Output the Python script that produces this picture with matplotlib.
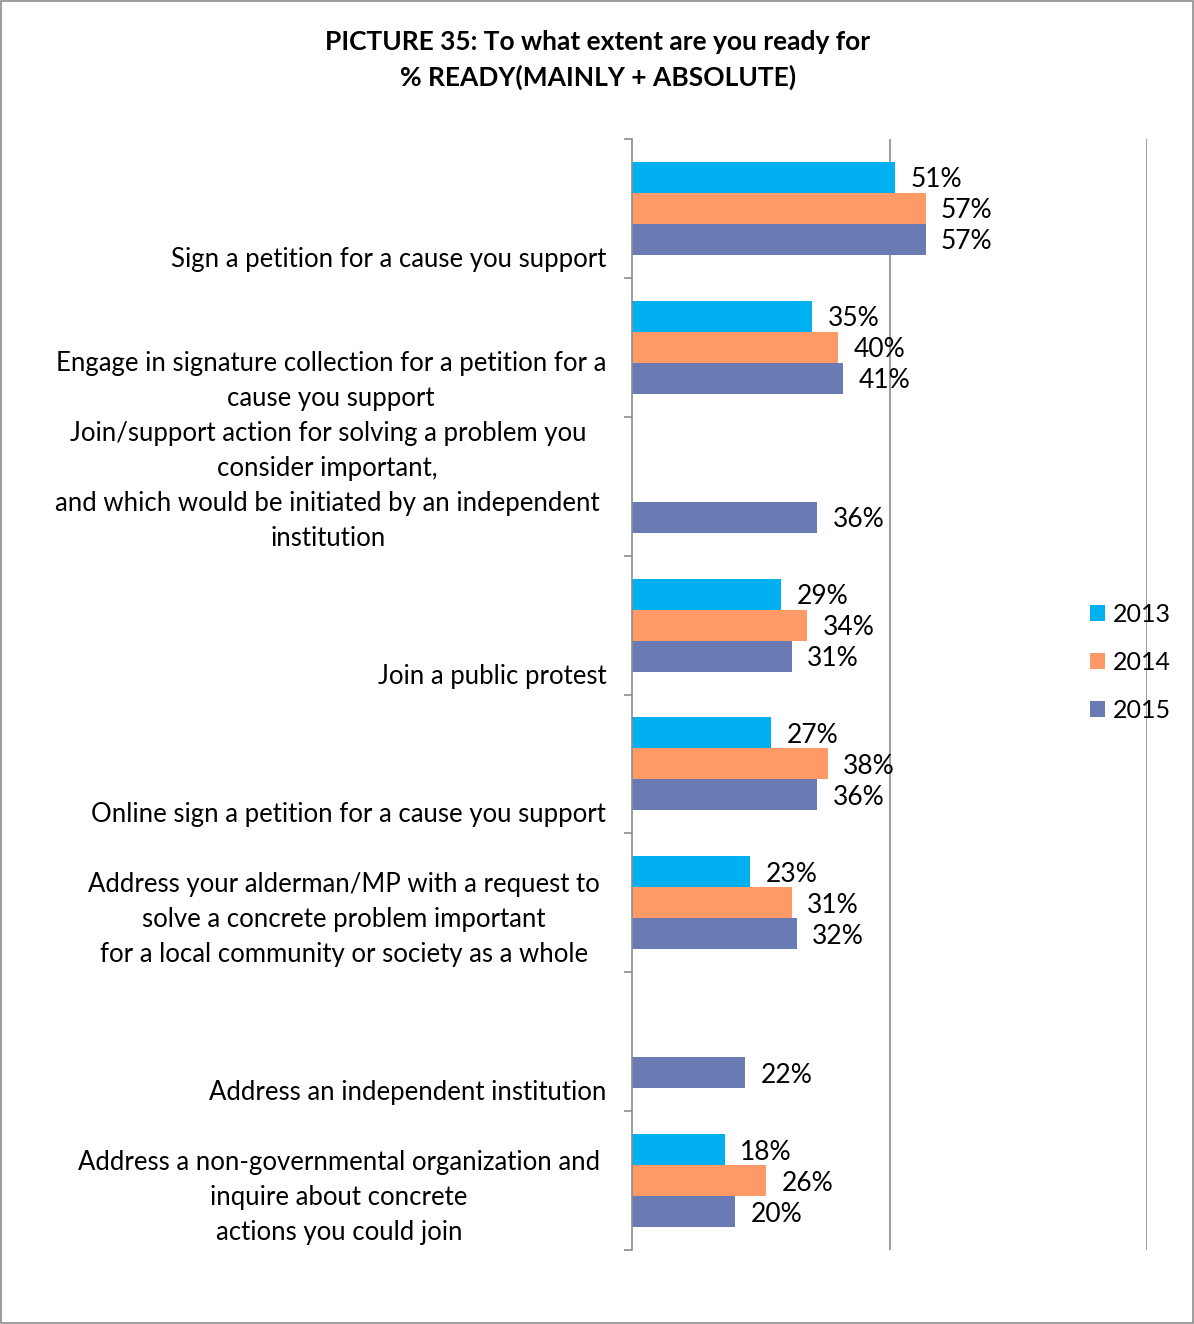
import numpy as np
import matplotlib.pyplot as plt
from matplotlib.patches import Rectangle

plt.rcParams['font.family'] = ['Lato', 'DejaVu Sans']

categories = [
    'Sign a petition for a cause you support',
    'Engage in signature collection for a petition for a\ncause you support',
    'Join/support action for solving a problem you\nconsider important,\nand which would be initiated by an independent\ninstitution',
    'Join a public protest',
    'Online sign a petition for a cause you support',
    'Address your alderman/MP with a request to\nsolve a concrete problem important\nfor a local community or society as a whole',
    'Address an independent institution',
    'Address a non-governmental organization and\ninquire about concrete\nactions you could join',
]
years = ['2013', '2014', '2015']
v2013 = [51, 35, np.nan, 29, 27, 23, np.nan, 18]
v2014 = [57, 40, np.nan, 34, 38, 31, np.nan, 26]
v2015 = [57, 41, 36, 31, 36, 32, 22, 20]
colors = ['#00B0F0', '#FF9966', '#6A7BB3']

fig = plt.figure(figsize=(11.94, 13.24), dpi=100)
fig.patches.append(Rectangle((0.001, 0.001), 0.998, 0.998, transform=fig.transFigure,
                             fill=False, edgecolor='#8C8C8C', linewidth=1.2))
ax = fig.add_axes([632 / 1194, 74 / 1324, 515 / 1194, 1111 / 1324])

y = np.arange(len(categories))
h = 0.223
for k, (vals, col, yr) in enumerate(zip([v2013, v2014, v2015], colors, years)):
    pos = y + (k - 1) * h
    ax.barh(pos, vals, height=h, color=col, label=yr, zorder=2)
    for p, v in zip(pos, vals):
        if not np.isnan(v):
            ax.text(v + 3, p, f'{v:.0f}%', va='center_baseline', ha='left', fontsize=19, zorder=3)

# labels sit at the bottom of a four-line box around each category
for i, lab in enumerate(categories):
    n = lab.count('\n') + 1
    xoff = -0.05 if n < 3 else -0.062
    ax.text(xoff, i + (4 - n) * 0.1225, lab, transform=ax.get_yaxis_transform(),
            ha='right', va='center', multialignment='center', fontsize=18.5, linespacing=1.5)

ax.set_xlim(0, 100)
ax.set_ylim(len(categories) - 0.5, -0.5)
ax.set_yticks(np.arange(len(categories) + 1) - 0.5)
ax.set_yticklabels([])
ax.tick_params(axis='y', direction='out', length=6, color='#8C8C8C', width=1.2)
ax.set_xticks([])
ax.axvline(50, color='#8C8C8C', linewidth=1.2, zorder=1)
ax.axvline(100, color='#8C8C8C', linewidth=1.2, zorder=1)
for s in ['top', 'right', 'bottom']:
    ax.spines[s].set_visible(False)
ax.spines['left'].set_color('#8C8C8C')
ax.spines['left'].set_linewidth(1.2)

fig.text(598 / 1194, 1 - 60 / 1324, 'PICTURE 35: To what extent are you ready for\n% READY(MAINLY + ABSOLUTE)',
         ha='center', va='center', fontsize=19, fontweight='bold', linespacing=1.5)

fig.legend(loc='center left', bbox_to_anchor=(1067 / 1194, 1 - 662 / 1324), frameon=False,
           fontsize=18, handlelength=0.6, handleheight=0.6, handletextpad=0.35, labelspacing=1.0)

fig.savefig('out.png', dpi=100)
